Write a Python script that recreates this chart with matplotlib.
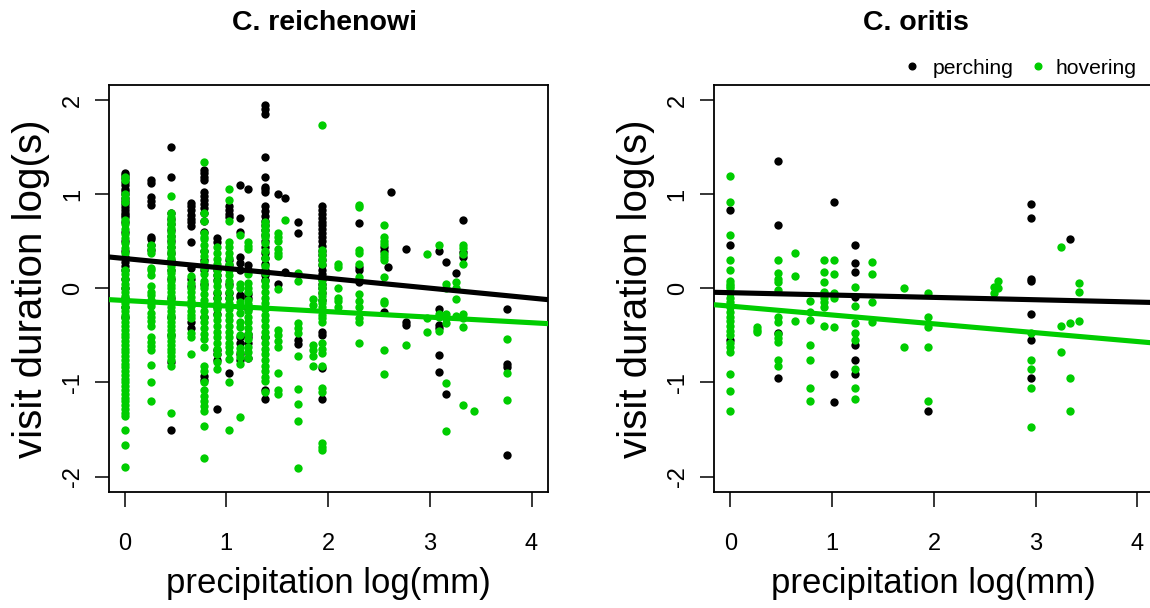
import matplotlib
matplotlib.use("Agg")
import matplotlib.pyplot as plt
from matplotlib.lines import Line2D

plt.rcParams['font.family'] = ['Liberation Sans', 'DejaVu Sans']
plt.rcParams['axes.unicode_minus'] = False

# ---------------- data: C. reichenowi ----------------
rei_perch_x = [0.0, 0.26, 0.46, 0.65, 0.78, 0.91, 1.03, 1.13, 1.21, 1.38, 1.51, 1.58,
               1.70, 1.94, 2.30, 2.55, 2.59, 2.62, 2.77, 3.09, 3.16, 3.26, 3.33, 3.76]
rei_perch_y = [
    [1.23, 1.2, 1.17, 1.13, 1.1, 1.06, 1.03, 1.0, 0.96, 0.93, 0.9, 0.86, 0.83, 0.8, 0.78,
     0.76, 0.7, 0.6, 0.5, 0.4, 0.33, 0.28, 0.24, 0.2, 0.1, 0.0, -0.1, -0.2, -0.3],
    [1.15, 1.12, 0.97, 0.93, 0.89, 0.55, 0.52, 0.46, 0.41],
    [1.5, 1.18, 0.8, 0.74, 0.68, 0.62, 0.56, 0.5, 0.44, 0.38, 0.3, 0.2, 0.1, -0.1, -0.3,
     -0.5, -0.78, -1.5],
    [0.91, 0.87, 0.83, 0.78, 0.74, 0.7, 0.66, 0.49, 0.22, 0.1, 0.02, -0.36, -0.42],
    [1.26, 1.22, 1.18, 1.15, 1.02, 0.98, 0.94, 0.9, 0.85, 0.8, 0.72, 0.6, 0.4, 0.3, 0.2,
     0.05, -0.3, -0.93, -0.97],
    [0.53, 0.49, 0.2, 0.14, 0.09, -0.05, -0.1, -0.2, -0.27, -0.65, -0.7, -0.76, -1.28],
    [0.87, 0.83, 0.79, 0.76, 0.3, 0.25, 0.05, -0.05, -0.1, -0.9],
    [1.1, 0.75, 0.6, 0.33, 0.27, 0.2, -0.07, -0.09, -0.52, -0.58, -0.7, -0.76],
    [1.06, 0.25, 0.2, 0.18, -0.06, -0.1, -0.22, -0.49, -0.52, -0.58, -0.74],
    [1.95, 1.9, 1.85, 1.39, 1.18, 1.08, 1.05, 1.02, 0.87, 0.82, 0.77, 0.72, 0.67, 0.62,
     0.57, 0.5, 0.44, 0.38, 0.32, 0.26, 0.2, 0.14, 0.09, -0.52, -1.08, -1.18],
    [1.0, 0.05],
    [0.96, 0.17],
    [0.71, 0.59, -0.55, -0.59],
    [0.87, 0.83, 0.79, 0.75, 0.71, 0.67, 0.63, 0.59, 0.55, 0.5, 0.45, 0.4, 0.35, 0.3,
     0.25, 0.2, 0.15, 0.1, 0.05, 0.0, -0.05, -0.12, -0.46, -0.5, -0.85, -1.18],
    [0.69, 0.23, 0.19, 0.07],
    [0.44, 0.4, -0.25],
    [0.23],
    [1.02],
    [0.42, -0.36, -0.39],
    [0.4, -0.22, -0.39, -0.42, -0.71, -0.89],
    [0.28, -1.12],
    [0.16],
    [0.73, 0.39, 0.33],
    [-0.22, -0.8, -0.84, -1.77],
]

rei_hover_x = [0.0, 0.26, 0.46, 0.65, 0.78, 0.91, 1.03, 1.13, 1.21, 1.38, 1.51, 1.58,
               1.70, 1.855, 1.94, 2.10, 2.30, 2.55, 2.77, 2.97, 3.09, 3.16, 3.26, 3.33,
               3.43, 3.76]
rei_hover_y = [
    [1.18, 1.15, 1.0, 0.96, 0.92, 0.73, 0.68, 0.63, 0.58, 0.53, 0.48, 0.43, 0.38, 0.2,
     0.15, 0.1, 0.05, 0.0, -0.04, -0.08, -0.12, -0.16, -0.2, -0.24, -0.28, -0.32, -0.36,
     -0.4, -0.44, -0.48, -0.52, -0.56, -0.6, -0.64, -0.68, -0.72, -0.76, -0.8, -0.84,
     -0.88, -0.92, -0.96, -1.0, -1.04, -1.08, -1.12, -1.16, -1.2, -1.24, -1.28, -1.32,
     -1.36, -1.5, -1.66, -1.9],
    [0.46, 0.42, 0.38, 0.22, 0.19, 0.14, 0.02, -0.04, -0.07, -0.12, -0.16, -0.19, -0.26,
     -0.30, -0.35, -0.40, -0.52, -0.57, -0.61, -0.65, -0.81, -0.99, -1.2],
    [0.98, 0.8, 0.76, 0.72, 0.68, 0.64, 0.6, 0.56, 0.52, 0.48, 0.44, 0.4, 0.36, 0.32,
     0.28, 0.24, 0.2, 0.16, 0.12, 0.08, 0.04, 0.0, -0.04, -0.08, -0.12, -0.16, -0.2,
     -0.24, -0.28, -0.32, -0.36, -0.4, -0.44, -0.48, -0.52, -0.56, -0.6, -0.64, -0.68,
     -0.72, -0.76, -0.82, -1.32],
    [0.13, 0.06, 0.0, -0.04, -0.09, -0.13, -0.19, -0.24, -0.28, -0.32, -0.47, -0.52, -0.7],
    [1.34, 0.8, 0.72, 0.59, 0.55, 0.52, 0.46, 0.4, 0.34, 0.28, 0.22, 0.15, 0.08, 0.04,
     0.0, -0.06, -0.12, -0.18, -0.24, -0.3, -0.36, -0.42, -0.48, -0.54, -0.62, -0.83,
     -0.88, -1.0, -1.08, -1.14, -1.2, -1.25, -1.3, -1.46, -1.8],
    [0.44, 0.38, 0.31, 0.26, 0.2, 0.14, 0.08, 0.02, -0.04, -0.1, -0.16, -0.22, -0.28,
     -0.34, -0.4, -0.46, -0.52, -0.58, -0.64, -0.7, -0.78, -0.86],
    [1.05, 0.94, 0.72, 0.49, 0.44, 0.38, 0.32, 0.26, 0.2, 0.14, 0.08, 0.02, -0.04, -0.1,
     -0.16, -0.22, -0.28, -0.34, -0.4, -0.46, -0.52, -0.58, -0.62, -0.68, -0.75, -1.0,
     -1.5],
    [0.57, 0.05, 0.0, -0.15, -0.2, -0.26, -0.36, -0.41, -0.5, -0.63, -0.68, -0.73, -0.8,
     -1.37],
    [0.49, 0.45, 0.42, 0.15, 0.06, 0.0, -0.04, -0.12, -0.17, -0.24, -0.3, -0.36, -0.42,
     -0.48, -0.54, -0.62, -0.68, -0.74],
    [0.7, 0.66, 0.62, 0.58, 0.55, 0.48, 0.4, 0.32, 0.24, 0.16, 0.08, 0.02, -0.04, -0.1,
     -0.16, -0.22, -0.28, -0.34, -0.4, -0.46, -0.52, -0.58, -0.64, -0.7, -0.76, -0.82,
     -0.88, -0.94, -0.98, -1.1],
    [0.59, 0.55, 0.5, 0.42, 0.38, 0.34, -0.01, -0.44, -0.5, -0.56, -0.62, -0.9, -1.08,
     -1.12],
    [0.73],
    [0.16, 0.08, -0.37, -0.42, -0.47, -0.72, -1.07, -1.23, -1.41, -1.91],
    [-0.11, -0.18, -0.6, -0.66, -0.72, -0.82],
    [1.74, 0.41, 0.36, 0.31, 0.26, 0.09, 0.04, 0.0, -0.04, -0.08, -0.12, -0.16, -0.2,
     -0.24, -0.28, -0.32, -0.36, -0.58, -0.64, -0.69, -0.83, -1.06, -1.1, -1.64, -1.68,
     -1.72],
    [0.26, 0.23, 0.0, -0.1, -0.13, -0.2],
    [0.89, 0.86, 0.41, 0.38, 0.26, 0.12, -0.06, -0.13, -0.2, -0.32, -0.36, -0.58],
    [0.67, 0.55, 0.5, 0.47, 0.37, 0.33, 0.3, 0.12, -0.13, -0.16, -0.66, -0.91],
    [-0.6],
    [0.37, -0.32, -0.46],
    [0.46, -0.27, -0.3, -0.45],
    [0.05, 0.0, -0.27, -0.32, -0.37, -1.01, -1.51],
    [0.07, 0.0, -0.11, -0.29],
    [0.46, 0.43, 0.36, 0.26, -0.27, -0.32, -0.41, -1.24],
    [-1.3],
    [-0.54, -0.9, -1.19],
]

# ---------------- data: C. oritis ----------------
ori_perch_x = [0.0, 0.465, 1.02, 1.22, 1.94, 2.95, 3.34]
ori_perch_y = [
    [0.83, 0.46, -0.55],
    [1.35, 0.67, -0.47, -0.95],
    [0.92, -0.91, -1.21],
    [0.46, 0.27, 0.17, -0.09, -0.6, -0.76, -0.91],
    [-1.3],
    [0.9, 0.75, 0.1, 0.08, -0.27, -0.55, -0.95],
    [0.52],
]
ori_hover_x = [0.0, 0.264, 0.465, 0.635, 0.785, 0.917, 1.02, 1.22, 1.39, 1.71, 1.94,
               2.59, 2.63, 2.95, 3.25, 3.34, 3.43]
ori_hover_y = [
    [1.19, 0.92, 0.57, 0.30, 0.19, 0.08, 0.05, 0.02, 0.0, -0.05, -0.1, -0.15, -0.2,
     -0.25, -0.3, -0.35, -0.4, -0.45, -0.5, -0.58, -0.62, -0.68, -0.91, -1.09, -1.3],
    [-0.41, -0.44, -0.46],
    [0.30, 0.16, 0.10, 0.07, -0.02, -0.3, -0.36, -0.48, -0.53, -0.57, -0.76, -0.82],
    [0.38, 0.13, -0.35],
    [-0.13, -0.25, -0.34, -0.6, -0.76, -1.06, -1.2],
    [0.3, 0.17, 0.07, -0.04, -0.1, -0.15, -0.2, -0.4],
    [0.3, 0.15, -0.05, -0.1, -0.41],
    [0.01, -0.19, -0.37, -0.47, -0.55, -0.86, -1.06, -1.18],
    [0.28, 0.15, -0.14, -0.36],
    [0.0, -0.62],
    [-0.05, -0.3, -0.41, -0.62, -1.2],
    [0.01, -0.05],
    [0.08, 0.0],
    [-0.47, -0.76, -0.86, -1.06, -1.47],
    [0.44, -0.4, -0.68],
    [-0.37, -0.95, -1.3],
    [0.06, -0.04, -0.35],
]

# fitted regression lines: (intercept, slope)
rei_perch_fit = (0.317, -0.105)
rei_hover_fit = (-0.129, -0.059)
ori_perch_fit = (-0.046, -0.025)
ori_hover_fit = (-0.189, -0.094)

titles = ["C. reichenowi", "C. oritis"]
xticks = [0, 1, 2, 3, 4]
yticks = [-2, -1, 0, 1, 2]
xlabel = "precipitation log(mm)"
ylabel = "visit duration log(s)"
labels = ["perching", "hovering"]

GREEN = "#00CD00"
W, H = 1150, 608


def flatten(xs, ys):
    fx, fy = [], []
    for x, col in zip(xs, ys):
        for y in col:
            fx.append(x)
            fy.append(y)
    return fx, fy


fig = plt.figure(figsize=(W / 100, H / 100), dpi=100)
ax_w = 439 / W
ax_h = 406.7 / H
ax_b = 1 - 491.7 / H
ax1 = fig.add_axes([109.3 / W, ax_b, ax_w, ax_h])
ax2 = fig.add_axes([713.7 / W, ax_b, ax_w, ax_h])

panels = [
    (ax1, rei_perch_x, rei_perch_y, rei_hover_x, rei_hover_y, rei_perch_fit, rei_hover_fit, (-0.15, 4.165)),
    (ax2, ori_perch_x, ori_perch_y, ori_hover_x, ori_hover_y, ori_perch_fit, ori_hover_fit, (-0.165, 4.15)),
]

for ax, px, py, hx, hy, pfit, hfit, xl in panels:
    x1, y1 = flatten(px, py)
    x2, y2 = flatten(hx, hy)
    ax.scatter(x1, y1, s=36, color="black", linewidths=0, zorder=2)
    ax.scatter(x2, y2, s=36, color=GREEN, linewidths=0, zorder=3)
    ax.axline((0, pfit[0]), slope=pfit[1], color="black", lw=3.7, zorder=4)
    ax.axline((0, hfit[0]), slope=hfit[1], color=GREEN, lw=3.7, zorder=4)
    ax.set_xlim(*xl)
    ax.set_ylim(-2.16, 2.16)
    ax.set_xticks(xticks)
    ax.set_xticklabels([str(t) for t in xticks])
    ax.set_yticks(yticks)
    ax.set_yticklabels([str(t) for t in yticks], rotation=90, va="center")
    ax.tick_params(axis="x", length=11, width=1.1, pad=19, labelsize=17)
    ax.tick_params(axis="y", length=10, width=1.1, pad=8, labelsize=17)
    for sp in ax.spines.values():
        sp.set_linewidth(1.3)
    ax.set_xlabel(xlabel, fontsize=25, va="center")
    ax.xaxis.set_label_coords(0.5, (491.7 - 584) / 406.7)
    ax.set_ylabel(ylabel, fontsize=29, va="center")
    ax.yaxis.set_label_coords(-78 / 439, 0.5)

fig.text(325 / W, 1 - 23 / H, titles[0], ha="center", va="center", fontsize=20.5, fontweight="bold")
fig.text(916 / W, 1 - 23 / H, titles[1], ha="center", va="center", fontsize=20.5, fontweight="bold")

h1 = Line2D([], [], marker="o", ls="none", color="black", markersize=4.8)
h2 = Line2D([], [], marker="o", ls="none", color=GREEN, markersize=4.8)
leg1 = ax2.legend([h1], [labels[0]], loc="center left", bbox_to_anchor=(905.7 / W, 1 - 68 / H),
                  bbox_transform=fig.transFigure, frameon=False, fontsize=15.2,
                  handlelength=0.6, handletextpad=0.69, borderpad=0, borderaxespad=0)
ax2.add_artist(leg1)
ax2.legend([h2], [labels[1]], loc="center left", bbox_to_anchor=(1031.7 / W, 1 - 68 / H),
           bbox_transform=fig.transFigure, frameon=False, fontsize=15.2,
           handlelength=0.6, handletextpad=0.55, borderpad=0, borderaxespad=0)

fig.savefig("out.png", dpi=100)
